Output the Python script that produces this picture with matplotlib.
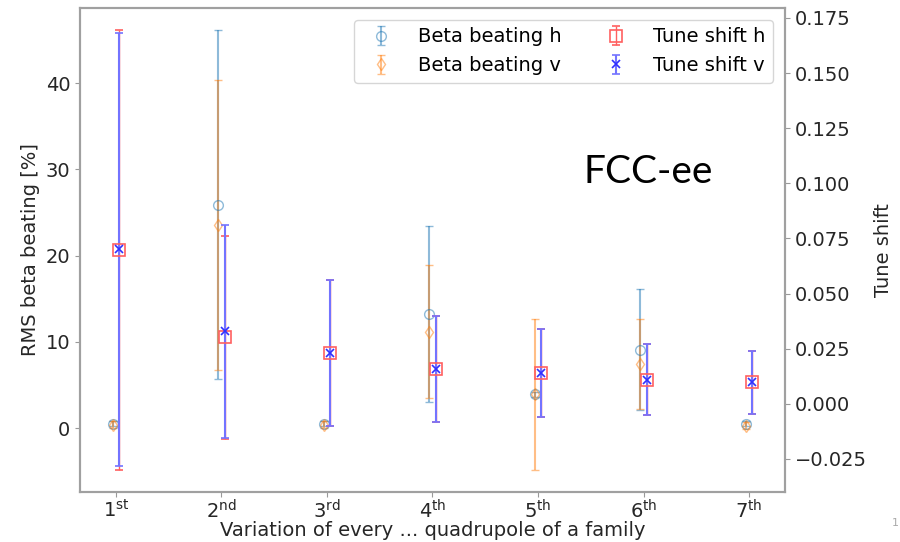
import matplotlib
matplotlib.use('Agg')
import matplotlib.pyplot as plt

# variation index (1st ... 7th quadrupole of a family)
pos = [1, 2, 3, 4, 5, 6, 7]
ticklabels = ['$1^{\\mathrm{st}}$', '$2^{\\mathrm{nd}}$', '$3^{\\mathrm{rd}}$', '$4^{\\mathrm{th}}$',
              '$5^{\\mathrm{th}}$', '$6^{\\mathrm{th}}$', '$7^{\\mathrm{th}}$']

# RMS beta beating [%]
beta_h = [0.5, 25.9, 0.5, 13.2, 3.9, 9.1, 0.5]
beta_h_err = [0.3, 20.2, 0.3, 10.2, 0.3, 7.0, 0.3]
beta_v = [0.4, 23.5, 0.4, 11.2, 3.9, 7.4, 0.3]
beta_v_err = [0.4, 16.8, 0.4, 7.7, 8.8, 5.2, 0.4]

# tune shift
tune_h = [0.0697, 0.0302, 0.0230, 0.0159, 0.0139, 0.0109, 0.0097]
tune_h_err = [0.0999, 0.0460, 0.0330, 0.0241, 0.0198, 0.0161, 0.0143]
tune_v = [0.0700, 0.0328, 0.0230, 0.0159, 0.0139, 0.0109, 0.0097]
tune_v_err = [0.0982, 0.0482, 0.0330, 0.0241, 0.0198, 0.0161, 0.0143]

off = 0.03
xb = [p - off for p in pos]
xt = [p + off for p in pos]

fig = plt.figure(figsize=(9, 5.42), dpi=100)
ax = fig.add_axes([0.0889, 0.0923, 0.7833, 0.8929])
ax2 = ax.twinx()

h1 = ax.errorbar(xb, beta_h, yerr=beta_h_err, fmt='o', mfc='none', color='tab:blue',
                 alpha=0.5, capsize=3, ms=7, elinewidth=1.5, label='Beta beating h')
h2 = ax.errorbar(xb, beta_v, yerr=beta_v_err, fmt='d', mfc='none', color='tab:orange',
                 alpha=0.5, capsize=3, ms=6, elinewidth=1.5, label='Beta beating v')
h3 = ax2.errorbar(xt, tune_h, yerr=tune_h_err, fmt='s', mfc='none', color='#ff6060',
                  capsize=3, ms=8, elinewidth=1, mew=1.2, label='Tune shift h')
h4 = ax2.errorbar(xt, tune_v, yerr=tune_v_err, fmt='x', color='#3030ff', ecolor='#7373ff',
                  capsize=3, ms=6, elinewidth=1.5, mew=1.2, label='Tune shift v')

ax.set_xlim(0.66, 7.34)
ax.set_ylim(-7.4, 48.7)
ax2.set_ylim(-0.040, 0.1795)
ax.set_xticks(pos)
ax.set_xticklabels(ticklabels)

ax.set_xlabel('Variation of every ... quadrupole of a family', fontsize=14, color='#262626', labelpad=-1)
ax.set_ylabel('RMS beta beating [%]', fontsize=14, color='#262626')
ax2.set_ylabel('Tune shift', fontsize=14, color='#262626', labelpad=5)

for a in (ax, ax2):
    a.tick_params(labelsize=14, colors='#999999', labelcolor='#262626', length=3.5)
    for s in a.spines.values():
        s.set_color('#a0a0a0')
        s.set_linewidth(1.5)
ax.tick_params(axis='x', pad=1.5)

ax2.legend([h1, h2, h3, h4], ['Beta beating h', 'Beta beating v', 'Tune shift h', 'Tune shift v'],
           ncol=2, loc='upper right', fontsize=14, handletextpad=0.9, columnspacing=1.8,
           borderaxespad=0.6)

fig.text(0.648, 0.662, 'FCC-ee', fontsize=28, family='Lato', va='baseline')
fig.text(0.991, 0.03, '1', fontsize=8, color='#aaaaaa')

fig.savefig('out.png', dpi=100)
